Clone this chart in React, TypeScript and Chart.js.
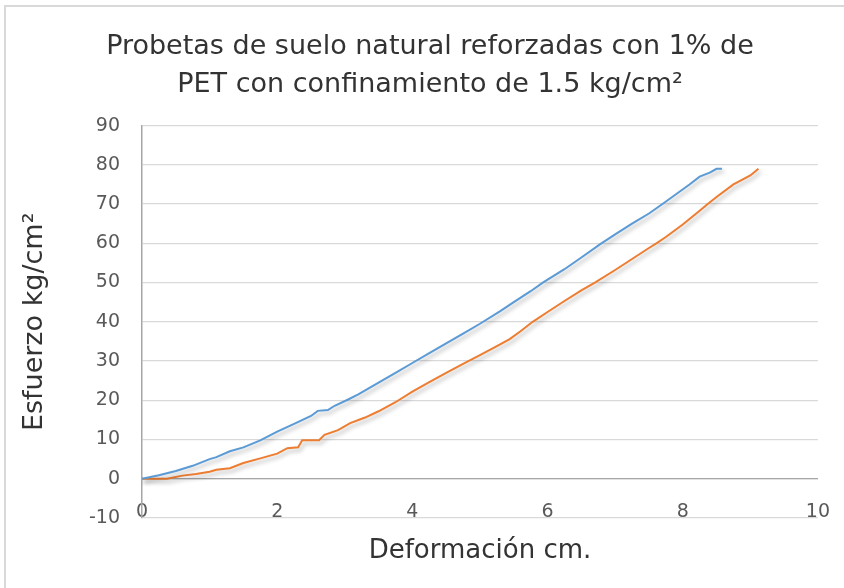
import React, { useEffect, useRef } from "react";
import { Chart, registerables } from "chart.js";

Chart.register(...registerables);

const titleLines = ["Probetas de suelo natural reforzadas con 1% de", "PET con confinamiento de 1.5 kg/cm²"];
const xTitle = "Deformación cm.";
const yTitle = "Esfuerzo kg/cm²";

const blueX = [0, 0.25, 0.5, 0.75, 1.0, 1.1, 1.3, 1.5, 1.75, 2.0, 2.25, 2.5, 2.6, 2.75, 2.85, 3.05, 3.2, 3.5, 3.75, 4.0, 4.25, 4.5, 4.75, 5.0, 5.3, 5.5, 5.75, 5.93, 6.25, 6.5, 6.78, 7.0, 7.25, 7.5, 7.69, 7.9, 8.1, 8.25, 8.4, 8.5, 8.58];
const blueY = [0, 0.9, 2.0, 3.3, 5.0, 5.5, 7.0, 8.0, 9.8, 12.0, 14.0, 16.0, 17.3, 17.5, 18.6, 20.2, 21.5, 24.5, 27.0, 29.5, 32.0, 34.5, 37.0, 39.5, 42.7, 45.0, 47.8, 50.0, 53.4, 56.4, 59.8, 62.3, 65.0, 67.6, 69.9, 72.5, 75.0, 77.0, 78.0, 79.0, 79.0];

const orangeX = [0, 0.37, 0.6, 0.8, 1.0, 1.1, 1.3, 1.5, 1.75, 2.0, 2.15, 2.31, 2.37, 2.62, 2.7, 2.9, 3.08, 3.3, 3.5, 3.75, 4.0, 4.25, 4.5, 4.75, 5.0, 5.25, 5.44, 5.6, 5.78, 6.0, 6.25, 6.5, 6.7, 7.0, 7.25, 7.5, 7.61, 7.75, 8.0, 8.25, 8.37, 8.5, 8.75, 9.0, 9.12];
const orangeY = [0, 0, 0.8, 1.2, 1.8, 2.3, 2.7, 4.0, 5.2, 6.4, 7.8, 8.0, 9.8, 9.8, 11.2, 12.4, 14.2, 15.6, 17.2, 19.5, 22.2, 24.6, 27.0, 29.3, 31.5, 33.8, 35.6, 37.6, 40.0, 42.5, 45.3, 48.0, 50.0, 53.2, 56.0, 58.8, 60.0, 61.6, 64.8, 68.3, 70.0, 71.8, 75.0, 77.3, 79.0];

const FONT = '"DejaVu Sans", sans-serif';

const framePlugin = {
  id: "frame",
  beforeDraw(chart: any) {
    const ctx = chart.ctx;
    ctx.save();
    ctx.fillStyle = "#ffffff";
    ctx.fillRect(0, 0, chart.width, chart.height);
    ctx.fillStyle = "#d9d9d9";
    ctx.fillRect(4, 5, 2, chart.height - 5);
    ctx.fillRect(4, 5, chart.width - 4, 2);
    ctx.restore();
  },
};

const shadowPlugin = {
  id: "lineShadow",
  beforeDatasetsDraw(chart: any) {
    const ctx = chart.ctx;
    ctx.save();
    ctx.shadowColor = "rgba(0,0,0,0.3)";
    ctx.shadowBlur = 4;
    ctx.shadowOffsetX = 2;
    ctx.shadowOffsetY = 3;
  },
  afterDatasetsDraw(chart: any) {
    chart.ctx.restore();
  },
};

export default function App() {
  const ref = useRef<HTMLCanvasElement | null>(null);
  useEffect(() => {
    if (!ref.current) return;
    const chart = new Chart(ref.current, {
      type: "line",
      data: {
        datasets: [
          {
            label: "Serie 1",
            data: blueX.map((x, i) => ({ x, y: blueY[i] })),
            borderColor: "#5B9BD5",
            borderWidth: 2,
            pointRadius: 0,
            tension: 0,
            fill: false,
          },
          {
            label: "Serie 2",
            data: orangeX.map((x, i) => ({ x, y: orangeY[i] })),
            borderColor: "#ED7D31",
            borderWidth: 2,
            pointRadius: 0,
            tension: 0,
            fill: false,
          },
        ],
      },
      options: {
        responsive: false,
        animation: false,
        devicePixelRatio: 1,
        layout: { padding: { left: 24, right: 8, top: 0, bottom: 70 } },
        plugins: {
          legend: { display: false },
          tooltip: { enabled: false },
          title: {
            display: true,
            text: titleLines,
            color: "#333333",
            font: { family: FONT, size: 27, weight: "normal", lineHeight: 1.4 },
            padding: { top: 28, bottom: 22 },
          },
        },
        scales: {
          x: {
            type: "linear",
            position: { y: 0 },
            min: 0,
            max: 10,
            ticks: {
              stepSize: 2,
              color: "#595959",
              font: { family: FONT, size: 19 },
              padding: 14,
              maxRotation: 0,
            },
            grid: { display: false },
            border: { display: true, color: "#a6a6a6", width: 1.3 },
            title: {
              display: true,
              text: xTitle,
              color: "#333333",
              font: { family: FONT, size: 26, lineHeight: 1.2 },
              padding: { top: 0, bottom: 0 },
            },
            afterFit: (s: any) => {
              s.height = 88;
            },
          },
          y: {
            type: "linear",
            position: "left",
            min: -10,
            max: 90,
            ticks: {
              stepSize: 10,
              color: "#595959",
              font: { family: FONT, size: 19 },
              padding: 22,
            },
            grid: {
              drawTicks: false,
              color: "#d9d9d9",
              lineWidth: 1.3,
            },
            border: { display: true, color: "#a6a6a6", width: 1.5 },
            title: {
              display: true,
              text: yTitle,
              color: "#333333",
              font: { family: FONT, size: 27, lineHeight: 1.2 },
              padding: { top: -5, bottom: 0 },
            },
            afterFit: (s: any) => {
              s.width = 118;
            },
          },
          yRight: {
            type: "linear",
            position: "right",
            display: true,
            ticks: { display: false },
            grid: { display: false },
            border: { display: false },
            afterFit: (s: any) => {
              s.width = 13;
            },
          },
        },
      },
      plugins: [framePlugin, shadowPlugin],
    });
    return () => chart.destroy();
  }, []);
  return (
    <div style={{ position: "absolute", left: 0, top: 0, width: 844, height: 588 }}>
      <canvas ref={ref} width={844} height={588} style={{ width: 844, height: 588, display: "block" }} />
    </div>
  );
}
